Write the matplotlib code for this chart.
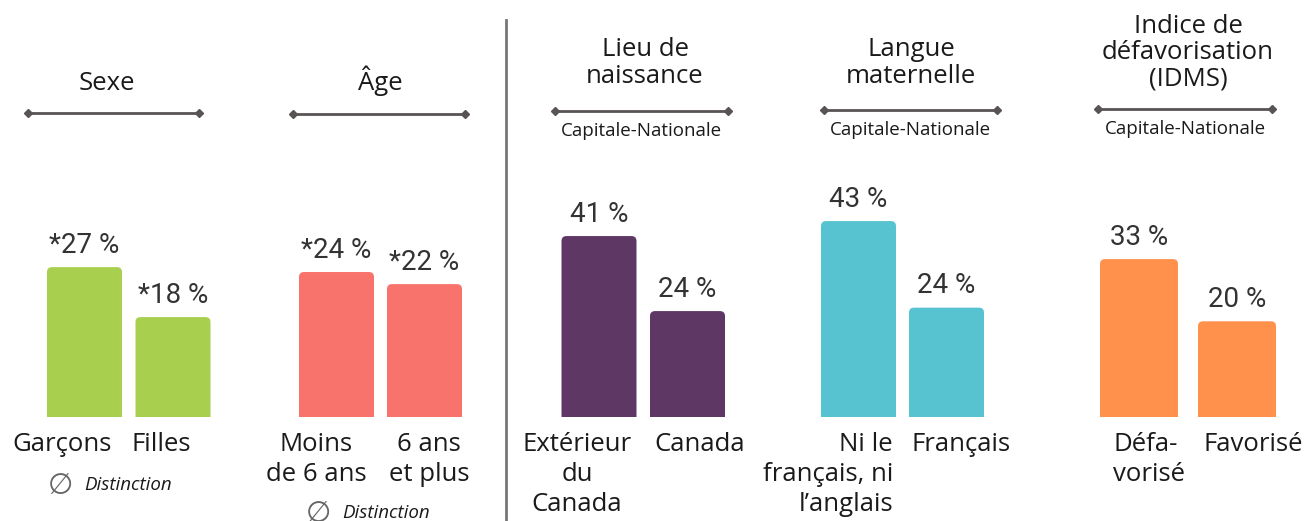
import matplotlib
matplotlib.use("Agg")
import matplotlib.pyplot as plt
from matplotlib.patches import FancyBboxPatch

# ---------------- data ----------------
group_titles = ["Sexe", "Âge", "Lieu de\nnaissance", "Langue\nmaternelle",
                "Indice de\ndéfavorisation\n(IDMS)"]
group_subtitles = ["", "", "Capitale-Nationale", "Capitale-Nationale", "Capitale-Nationale"]
categories = [
    ["Garçons", "Filles"],
    ["Moins\nde 6 ans", "6 ans\net plus"],
    ["Extérieur\ndu\nCanada", "Canada"],
    ["Ni le\nfrançais, ni\nl’anglais", "Français"],
    ["Défa-\nvorisé", "Favorisé"],
]
values = [
    [27, 18],
    [24, 22],
    [41, 24],
    [43, 24],
    [33, 20],
]
value_labels = [
    ["*27 %", "*18 %"],
    ["*24 %", "*22 %"],
    ["41 %", "24 %"],
    ["43 %", "24 %"],
    ["33 %", "20 %"],
]
notes = ["Distinction", "Distinction", "", "", ""]
colors = ["#A9CF4F", "#F8736B", "#5E3765", "#58C3D0", "#FF914D"]

# ---------------- layout (pixels, origin top-left) ----------------
W, H = 1307, 521
fig = plt.figure(figsize=(W / 100, H / 100), dpi=100)
base = fig.add_axes([0, 0, 1, 1])
base.set_xlim(0, W)
base.set_ylim(H, 0)
base.axis("off")

FONT = "Open Sans"
VFONT = "Roboto"
TXT = "#1a1a1a"
GREY = "#595454"

bar_bottom = 417
bar_top_area = 150
first_centers = [84.5, 336.5, 599, 858.5, 1139]
spacings = [88.5, 88, 88.5, 88, 98]
bar_widths = [75, 75, 75, 75, 78]
ymaxes = [48.1, 44.2, 60.5, 58.6, 55.8]

title_x = [107, 380, 645, 911, 1188]
title_y_bottom = [83, 83, 76, 76, 79]
line_x = [(28, 199), (293, 465), (555, 728), (824, 997), (1098, 1272)]
line_y = [113, 114, 111, 110, 109]

cat_x = [[62, 161], [316, 429], [577, 700], [893, 911], [1113, 1253]]
cat_ha = [["center", "center"], ["center", "center"], ["center", "center"],
          ["right", "left"], ["left", "center"]]
note_pos = [(60, 486), (318, 514), None, None, None]

for g in range(5):
    d = spacings[g]
    left_px = first_centers[g] - d / 2
    ax = fig.add_axes([left_px / W, (H - bar_bottom) / H, 2 * d / W,
                       (bar_bottom - bar_top_area) / H])
    ax.set_xlim(-0.5, 1.5)
    ax.set_ylim(0, ymaxes[g])
    ax.axis("off")
    bw = bar_widths[g] / d
    rx = 5 / d
    ry = 5 * ymaxes[g] / (bar_bottom - bar_top_area)
    for i, v in enumerate(values[g]):
        patch = FancyBboxPatch((i - bw / 2, -ry), bw, v + ry,
                               boxstyle=f"round,pad=0,rounding_size={rx}",
                               mutation_aspect=ry / rx,
                               facecolor=colors[g], edgecolor="none")
        ax.add_patch(patch)
        ax.annotate(value_labels[g][i], (i, v), xytext=(0, 6),
                    textcoords="offset points", ha="center", va="bottom",
                    fontsize=20, family=VFONT, color="#333333")

    # titles
    base.text(title_x[g], title_y_bottom[g] + 13, group_titles[g], ha="center",
              va="bottom", fontsize=18.5, family=FONT, color=TXT,
              linespacing=1.08)
    # line with diamond ends
    x0, x1 = line_x[g]
    base.plot([x0, x1], [line_y[g], line_y[g]], color=GREY, lw=2,
              marker="D", markersize=4.5, markevery=[0, 1])
    if group_subtitles[g]:
        base.text((x0 + x1) / 2, line_y[g] + 20, group_subtitles[g],
                  ha="center", va="center", fontsize=13.5, family=FONT,
                  color=TXT)
    # category labels
    for i, lab in enumerate(categories[g]):
        base.text(cat_x[g][i], 432, lab, ha=cat_ha[g][i], va="top",
                  fontsize=18.5, family=FONT, color=TXT, linespacing=1.26,
                  multialignment=cat_ha[g][i])
    # notes
    if notes[g]:
        nx, ny = note_pos[g]
        base.text(nx, ny, "∅", ha="center", va="center", fontsize=21,
                  family="DejaVu Sans", color="#666666")
        base.text(nx + 24, ny - 1, notes[g], ha="left", va="center",
                  fontsize=13.5, family=FONT, style="italic", color=TXT)

# vertical separator
base.plot([506, 506], [20, H], color="#777777", lw=2)

fig.savefig("out.png", dpi=100)
